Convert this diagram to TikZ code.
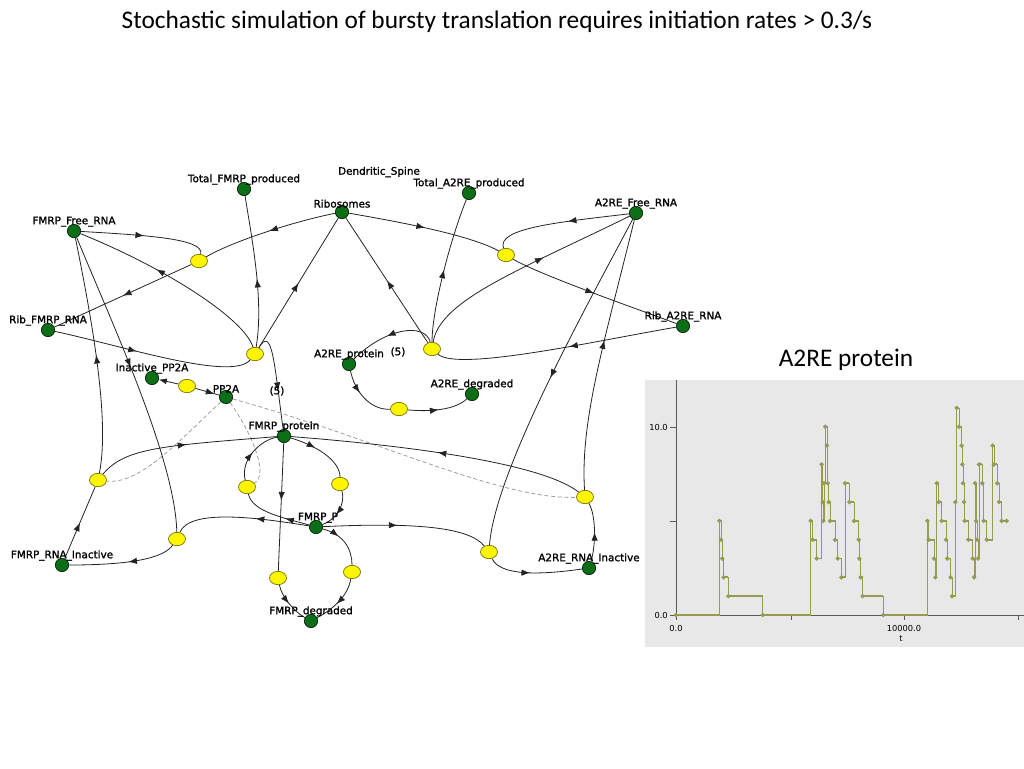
\documentclass[tikz,border=0pt]{standalone}
\usepackage{fontspec}
\setmainfont{DejaVu Sans}
\newfontfamily\titlefont{Carlito}
\newfontfamily\lblfam[FakeBold=1.4]{DejaVu Sans}
\usetikzlibrary{shapes.geometric,arrows.meta,decorations.markings,backgrounds}
\definecolor{sgreen}{RGB}{12,110,22}
\definecolor{sedge}{RGB}{35,35,35}
\definecolor{ryel}{RGB}{255,245,0}
\definecolor{plotbg}{RGB}{232,232,232}
\definecolor{plotline}{RGB}{150,156,78}
\definecolor{axisc}{RGB}{90,90,90}
\newcommand\lblfont{\lblfam\fontsize{7.8}{9}\selectfont}
\newcommand\tickfont{\fontsize{6.2}{7}\selectfont}
\newcommand\bigfont{\titlefont\fontsize{19}{23}\selectfont}
\begin{document}
\begin{tikzpicture}[x=0.75pt,y=-0.75pt,
  sp/.style={circle, minimum size=10pt, inner sep=0pt, fill=sgreen, draw=black!70!sgreen, line width=0.5pt},
  rx/.style={ellipse, minimum width=12.75pt, minimum height=10pt, inner sep=0pt, fill=ryel, draw=black!55!ryel, line width=0.5pt},
  every label/.style={font=\lblfont, inner sep=0pt},
  label distance=-2.2pt,
  txt/.style={font=\lblfont, inner sep=0pt},
  ed/.style={draw=sedge, line width=0.6pt},
  dsh/.style={draw=black!38, line width=0.6pt, dash pattern=on 3pt off 2pt},
  am/.style={postaction={decorate, decoration={markings, mark=at position #1 with {\arrow{Latex[length=6.5pt,width=4.8pt]}}}}},
  ax/.style={draw=axisc, line width=0.5pt},
  tk/.style={font=\tickfont, inner sep=0pt}
]
\useasboundingbox (0,0) rectangle (1024,768);

\node[font=\bigfont] (title) at (497,22) {Stochastic simulation of bursty translation requires initiation rates > 0.3/s};

% species nodes
\node[sp, label={above:Total\_FMRP\_produced}] (tfp) at (244,189) {};
\node[sp, label={above:Ribosomes}] (rib) at (342,212) {};
\node[sp, label={above:Total\_A2RE\_produced}] (tap) at (469,193) {};
\node[txt] (dsp) at (379,172) {Dendritic\_Spine};
\node[sp, label={above:FMRP\_Free\_RNA}] (ffr) at (74,231) {};
\node[sp, label={above:A2RE\_Free\_RNA}] (afr) at (636,213) {};
\node[sp, label={above:Rib\_FMRP\_RNA}] (rfr) at (48,330) {};
\node[sp, label={above:Rib\_A2RE\_RNA}] (rar) at (683,326) {};
\node[sp, label={above:A2RE\_protein}] (ap) at (349,364) {};
\node[txt] (ap5) at (398,352) {(5)};
\node[sp, label={above:Inactive\_PP2A}] (ipp) at (152,378) {};
\node[sp, label={above:PP2A}] (pp) at (226,397) {};
\node[sp, label={above:A2RE\_degraded}] (ad) at (472,394) {};
\node[sp, label={above:FMRP\_protein}] (fp) at (284,436) {};
\node[sp, label={[xshift=1.5pt]above:FMRP\_P}] (fpp) at (316,527) {};
\node[sp, label={above:FMRP\_RNA\_Inactive}] (fri) at (62,565) {};
\node[sp, label={above:A2RE\_RNA\_Inactive}] (ari) at (589,568) {};
\node[sp, label={above:FMRP\_degraded}] (fd) at (311,621) {};
\node[txt] (fp5) at (277,391) {(5)};

% reaction nodes
\node[rx] (r1) at (199,261) {};
\node[rx] (r2) at (255,354) {};
\node[rx] (r3) at (506,255) {};
\node[rx] (r4) at (432,349) {};
\node[rx] (r5) at (187,386) {};
\node[rx] (r6) at (399,409) {};
\node[rx] (r7) at (98,480) {};
\node[rx] (r8) at (177,539) {};
\node[rx] (r9) at (247,487) {};
\node[rx] (r10) at (340,484) {};
\node[rx] (r11) at (278,578) {};
\node[rx] (r12) at (352,572) {};
\node[rx] (r13) at (489,552) {};
\node[rx] (r14) at (585,497) {};

\begin{scope}[on background layer]
\draw[ed, am=0.5] (ffr) .. controls (140,235) and (205,238) .. (r1);
\draw[ed, am=0.5] (rib) .. controls (300,220) and (235,240) .. (r1);
\draw[ed, am=0.5] (r1) -- (rfr);
\draw[ed, am=0.42] (rfr) .. controls (120,345) and (232,382) .. (r2);
\draw[ed, am=0.6] (r2) .. controls (245,320) and (170,270) .. (ffr);
\draw[ed, am=0.45] (r2) .. controls (264,300) and (252,240) .. (tfp);
\draw[ed, am=0.5] (r2) -- (rib);
\draw[ed, am=0.62] (r2) .. controls (272,326) and (274,360) .. (fp);
\draw[ed, am=0.5] (rib) .. controls (400,222) and (470,235) .. (r3);
\draw[ed, am=0.45] (afr) .. controls (560,222) and (496,228) .. (r3);
\draw[ed, am=0.5] (r3) .. controls (540,275) and (640,310) .. (rar);
\draw[ed, am=0.45] (rar) .. controls (600,340) and (458,372) .. (r4);
\draw[ed, am=0.5] (r4) -- (rib);
\draw[ed, am=0.5] (r4) .. controls (432,310) and (450,240) .. (tap);
\draw[ed, am=0.6] (r4) .. controls (440,300) and (520,270) .. (afr);
\draw[ed, am=0.55] (r4) .. controls (425,322) and (385,328) .. (ap);
\draw[ed, am=0.4] (ap) .. controls (355,392) and (370,410) .. (r6);
\draw[ed, am=0.5] (r6) .. controls (430,412) and (455,410) .. (ad);
\draw[ed, -{Latex[length=6pt,width=4.5pt]}] (r5) -- (ipp);
\draw[ed, am=0.8] (r5) -- (pp);
\draw[dsh] (pp) .. controls (180,440) and (140,485) .. (r7);
\draw[dsh] (pp) .. controls (250,430) and (270,475) .. (r9);
\draw[dsh] (pp) .. controls (380,440) and (500,500) .. (r14);
\draw[ed, am=0.5] (r7) .. controls (125,448) and (160,446) .. (fp);
\draw[ed, am=0.5] (fri) -- (r7);
\draw[ed, am=0.5] (r7) .. controls (110,420) and (92,320) .. (ffr);
\draw[ed, am=0.45] (ffr) .. controls (115,330) and (175,460) .. (r8);
\draw[ed, am=0.45] (r8) .. controls (165,556) and (140,565) .. (fri);
\draw[ed, am=0.4] (fpp) .. controls (260,518) and (190,508) .. (r8);
\draw[ed, am=0.35] (fpp) .. controls (285,518) and (252,512) .. (r9);
\draw[ed, am=0.45] (fpp) .. controls (420,522) and (470,528) .. (r13);
\draw[ed, am=0.45] (r13) .. controls (500,576) and (540,575) .. (ari);
\draw[ed, am=0.5] (afr) .. controls (590,300) and (495,470) .. (r13);
\draw[ed, am=0.5] (ari) .. controls (596,545) and (596,515) .. (r14);
\draw[ed, am=0.55] (r14) .. controls (580,420) and (605,340) .. (afr);
\draw[ed, am=0.5] (r14) .. controls (540,462) and (400,445) .. (fp);
\draw[ed, am=0.4] (fp) .. controls (315,445) and (340,460) .. (r10);
\draw[ed, am=0.6] (r10) .. controls (346,505) and (335,520) .. (fpp);
\draw[ed, am=0.5] (r9) .. controls (240,460) and (260,440) .. (fp);
\draw[ed, am=0.45] (fp) -- (r11);
\draw[ed, am=0.5] (r11) .. controls (282,598) and (295,612) .. (fd);
\draw[ed, am=0.35] (fpp) .. controls (345,535) and (352,550) .. (r12);
\draw[ed, am=0.55] (r12) .. controls (348,595) and (335,608) .. (fd);
\end{scope}

% plot panel
\node[font=\bigfont] (ptitle) at (846,360) {A2RE protein};
\fill[plotbg] (645,380) rectangle (1024,647);
\draw[ax] (676,380) -- (676,615) -- (1024,615);
\draw[ax] (670,427) -- (676,427);
\draw[ax] (670,521) -- (676,521);
\draw[ax] (670,615) -- (676,615);
\draw[ax] (676,615) -- (676,620);
\draw[ax] (791,615) -- (791,620);
\draw[ax] (904,615) -- (904,620);
\draw[ax] (1018,615) -- (1018,620);
\node[tk, anchor=east] (y10) at (668,427) {10.0};
\node[tk, anchor=east] (y0) at (668,615) {0.0};
\node[tk] (x0) at (676,628) {0.0};
\node[tk] (x1) at (904,628) {10000.0};
\node[tk] (xt) at (901,639) {t};
\begin{scope}[shift={(640,615)}, x=0.25pt, y=14.12pt]
\def\series{(108,0) (238,5) (243,4) (247,3) (251,2) (265,1) (368,0) (512,5) (518,4) (530,3) (545,8) (548,6) (550,5) (552,7) (556,10) (561,9) (563,7) (566,6) (570,5) (585,4) (593,3) (604,2) (615,7) (628,6) (642,5) (656,4) (658,3) (662,2) (668,1) (730,0) (862,5) (866,4) (882,3) (886,2) (890,7) (896,6) (905,5) (918,4) (922,3) (932,2) (936,1) (946,6) (950,11) (957,10) (965,9) (967,8) (969,7) (972,6) (974,5) (985,4) (998,3) (1002,2) (1005,7) (1008,5) (1011,4) (1014,3) (1017,8) (1027,7) (1031,5) (1040,4) (1058,9) (1062,8) (1072,7) (1077,6) (1085,5) (1100,5)}
\draw[plotline, line width=0.6pt] plot[const plot] coordinates {\series};
\draw[plotline, line width=1.4pt] plot[jump mark left, mark=*, mark size=0.8pt, mark options={fill=plotline}] coordinates {\series};
\end{scope}
\end{tikzpicture}
\end{document}
